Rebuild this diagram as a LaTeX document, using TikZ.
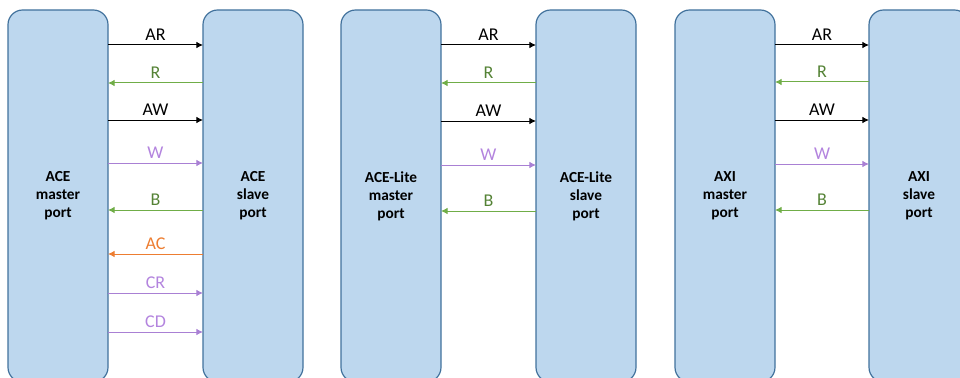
\documentclass[tikz,border=0pt]{standalone}
\usepackage{fontspec}
\setmainfont{Carlito}
\usetikzlibrary{positioning,arrows.meta}
\definecolor{portfill}{HTML}{BDD7EE}
\definecolor{portline}{HTML}{41719C}
\definecolor{rgreen}{HTML}{70AD47}
\definecolor{rgreentext}{HTML}{548235}
\definecolor{wpurple}{HTML}{A980D4}
\definecolor{wpurpletext}{HTML}{B384DE}
\definecolor{acorange}{HTML}{ED7D31}

\begin{document}
\begin{tikzpicture}[x=0.75pt,y=-0.75pt,
    port/.style={draw=portline, fill=portfill, line width=0.9pt, rounded corners=11pt,
      outer sep=0pt, minimum width=75pt, minimum height=279pt, align=center,
      font=\fontsize{11.5}{13.5}\selectfont\bfseries},
    sig/.style={line width=0.75pt, -{Latex[length=5pt,width=5pt]}},
    lbl/.style={midway, above=1pt, inner sep=2pt, font=\fontsize{13.5}{16}\selectfont}]
  \useasboundingbox (0,0) rectangle (960,378);
  \clip (0,0) rectangle (960,378);

  % Nodes
  \node[port] (acem) at (58,196) {ACE\\master\\port};
  \node[port, right=71.25pt of acem] (aces) {ACE\\slave\\port};
  \node[port, right=28.5pt of aces] (litem) {ACE-Lite\\master\\port};
  \node[port, right=71.25pt of litem] (lites) {ACE-Lite\\slave\\port};
  \node[port, right=29.25pt of lites] (axim) {AXI\\master\\port};
  \node[port, right=70.5pt of axim] (axis) {AXI\\slave\\port};

  % Arrows: ACE
  \draw[sig] (acem.east |- 0,45) -- (aces.west |- 0,45) node[lbl] {AR};
  \draw[sig, rgreen] (aces.west |- 0,83) -- (acem.east |- 0,83) node[lbl, text=rgreentext] {R};
  \draw[sig] (acem.east |- 0,120) -- (aces.west |- 0,120) node[lbl] {AW};
  \draw[sig, wpurple] (acem.east |- 0,163) -- (aces.west |- 0,163) node[lbl, text=wpurpletext] {W};
  \draw[sig, rgreen] (aces.west |- 0,210) -- (acem.east |- 0,210) node[lbl, text=rgreentext] {B};
  \draw[sig, acorange] (aces.west |- 0,254) -- (acem.east |- 0,254) node[lbl] {AC};
  \draw[sig, wpurple] (acem.east |- 0,293) -- (aces.west |- 0,293) node[lbl, text=wpurpletext] {CR};
  \draw[sig, wpurple] (acem.east |- 0,332) -- (aces.west |- 0,332) node[lbl, text=wpurpletext] {CD};

  % Arrows: ACE-Lite
  \draw[sig] (litem.east |- 0,45) -- (lites.west |- 0,45) node[lbl] {AR};
  \draw[sig, rgreen] (lites.west |- 0,83) -- (litem.east |- 0,83) node[lbl, text=rgreentext] {R};
  \draw[sig] (litem.east |- 0,121) -- (lites.west |- 0,121) node[lbl] {AW};
  \draw[sig, wpurple] (litem.east |- 0,165) -- (lites.west |- 0,165) node[lbl, text=wpurpletext] {W};
  \draw[sig, rgreen] (lites.west |- 0,211) -- (litem.east |- 0,211) node[lbl, text=rgreentext] {B};

  % Arrows: AXI
  \draw[sig] (axim.east |- 0,45) -- (axis.west |- 0,45) node[lbl] {AR};
  \draw[sig, rgreen] (axis.west |- 0,82) -- (axim.east |- 0,82) node[lbl, text=rgreentext] {R};
  \draw[sig] (axim.east |- 0,120) -- (axis.west |- 0,120) node[lbl] {AW};
  \draw[sig, wpurple] (axim.east |- 0,164) -- (axis.west |- 0,164) node[lbl, text=wpurpletext] {W};
  \draw[sig, rgreen] (axis.west |- 0,210) -- (axim.east |- 0,210) node[lbl, text=rgreentext] {B};
\end{tikzpicture}
\end{document}
